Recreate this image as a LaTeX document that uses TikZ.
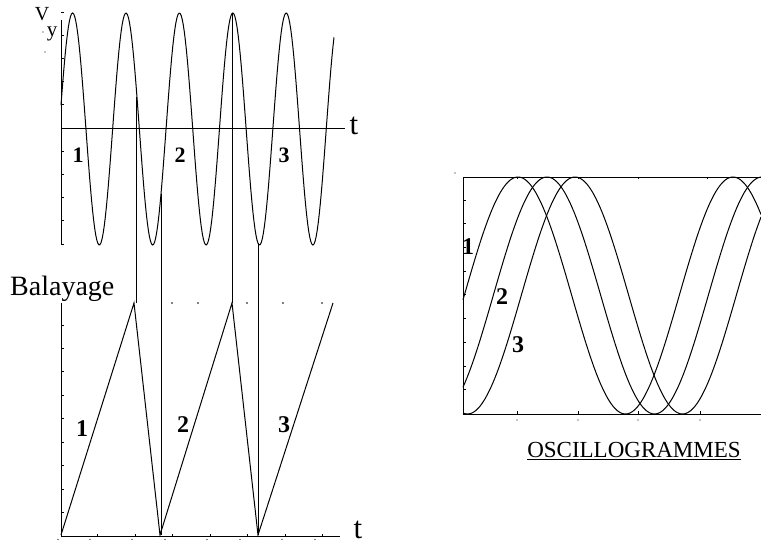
\documentclass[tikz,border=0pt]{standalone}
\usepackage{fontspec}
\setmainfont{Liberation Serif}
\usetikzlibrary{calc}
\tikzset{
  axis/.style={line width=0.9pt, draw=black},
  curve/.style={line width=1pt, draw=black},
  marker/.style={line width=0.9pt, draw=black},
  tick/.style={line width=0.6pt, draw=black},
  num/.style={inner sep=0pt, anchor=base, font=\fontsize{24}{24}\selectfont\bfseries},
  smallnum/.style={num, font=\fontsize{22}{22}\selectfont\bfseries},
  axlabel/.style={inner sep=0pt, anchor=base, font=\fontsize{31}{31}\selectfont},
}
\begin{document}
\begin{tikzpicture}[x=1pt, y=-1pt,
  declare function={sg(\t)=129-116*sin(6.7416*(\t-59.25));
                    osc(\t,\p)=295.5-118.5*cos(1.67442*(\t-\p));}]
\useasboundingbox (0,0) rectangle (761,545);
% signal
\draw[axis] (61,20) -- (61,245);
\draw[axis] (61,128) -- (345,128);
\foreach \k in {-5,...,5} \draw[tick] (61,{128+23.2*\k}) -- ++(2.5,0);
\draw[curve] plot[domain=61:334, samples=260] (\x,{sg(\x)});
\node[inner sep=0pt, anchor=base, font=\fontsize{20}{20}\selectfont] (V) at (42,21) {V};
\node[inner sep=0pt, anchor=base, font=\fontsize{21}{21}\selectfont] (Y) at (52,37) {y};
\fill (43,32) circle (0.7pt);
\fill (45,52) circle (0.7pt);
\node[axlabel] (t1) at (354,135) {t};
\node[smallnum] (a1) at (78,163) {1};
\node[smallnum] (a2) at (180,163) {2};
\node[smallnum] (a3) at (284,163) {3};
% sweep
\node[axlabel, anchor=base west, font=\fontsize{28}{28}\selectfont] (bal) at (10,296) {Balayage};
\coordinate (s0) at (61,535);
\coordinate (s1) at (134,303);
\coordinate (s2) at (160,535);
\coordinate (s3) at (232,303);
\coordinate (s4) at (258,535);
\coordinate (s5) at (333,303);
\draw[axis] (61,303) -- (61,536) -- (340,536);
\foreach \k in {0,...,8} \draw[tick] (61,{325+23.4*\k}) -- ++(2.5,0);
\foreach \x in {97,135,172,210,247,285,322} \draw[tick] (\x,536) -- ++(0,-2.5);
\foreach \x in {58,90,132,165,207,240,282,315} \fill (\x,539.5) circle (0.7pt);
\foreach \x in {172,198,247,283,322} \fill (\x,303) circle (0.8pt);
\draw[curve] (s0) -- (s1) -- (s2) -- (s3) -- (s4) -- (s5);
\node[axlabel] (t2) at (358,538) {t};
\node[num] (b1) at (82,437) {1};
\node[num] (b2) at (183,433) {2};
\node[num] (b3) at (284,432) {3};
% links
\coordinate (m1) at (136,97);
\coordinate (m2) at (161,{sg(161)});
\coordinate (m3) at (232,13);
\coordinate (m4) at (258,{sg(258)});
\draw[marker] (m1) -- (m1 |- s1);
\draw[marker] (m2) -- (m2 |- s2);
\draw[marker] (m3) -- (m3 |- s3);
\draw[marker] (m4) -- (m4 |- s4);
% screen
\draw[axis] (761,177) -- (463,177) -- (463,414) -- (761,414);
\foreach \k in {0,...,8} \draw[tick] (463,{200+23.7*\k}) -- ++(2.5,0);
\foreach \x in {517,578,638,700} {
  \draw[tick] (\x,414) -- ++(0,-2.5);
  \fill (\x,420) circle (0.7pt);
}
\foreach \x in {517,578,638,707} \draw[tick] (\x,177) -- ++(0,2.5);
\fill (455,173) circle (0.7pt);
\foreach \p in {518,547,575}
  \draw[curve] plot[domain=463:761, samples=160] (\x,{osc(\x,\p)});
\node[num] (c1) at (468,255) {1};
\node[num] (c2) at (502,305) {2};
\node[num] (c3) at (518,353) {3};
\node[inner sep=0pt, anchor=base, font=\fontsize{23}{23}\selectfont] (osc) at (634,457) {OSCILLOGRAMMES};
\draw[line width=1.1pt] ([yshift=-2.5pt]osc.base west) -- ([yshift=-2.5pt]osc.base east);
\end{tikzpicture}
\end{document}
